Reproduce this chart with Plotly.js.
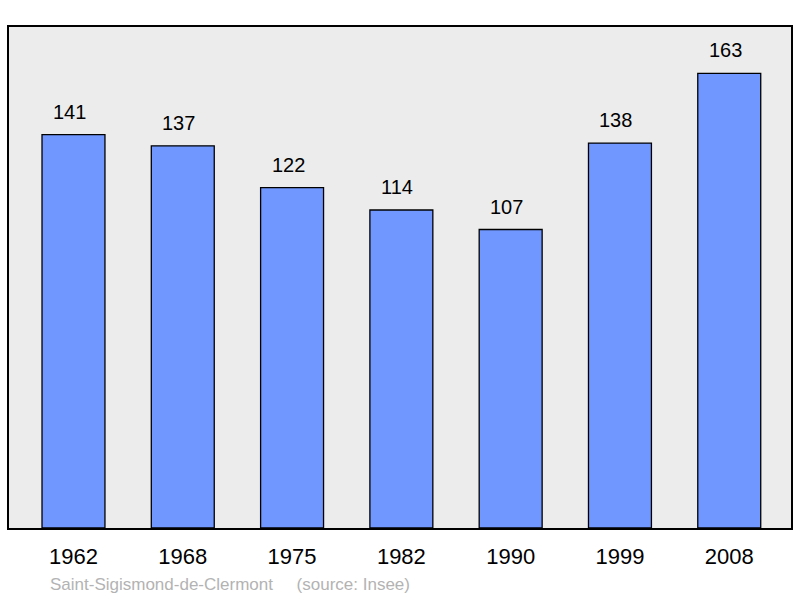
<!DOCTYPE html>
<html>
<head>
<meta charset="utf-8">
<script src="https://cdn.plot.ly/plotly-3.0.1.min.js"></script>
<style>html,body{margin:0;padding:0;background:#fff;}</style>
</head>
<body>
<div id="chart" style="width:800px;height:598px;"></div>
<script>
// population par recensement
var years = ['1962', '1968', '1975', '1982', '1990', '1999', '2008'];
var population = [141, 137, 122, 114, 107, 138, 163];
var commune = 'Saint-Sigismond-de-Clermont';

var idx = years.map(function(y, i){ return i; });

var trace = {
  x: idx,
  y: population,
  type: 'bar',
  width: 0.576,
  marker: {color: '#7097ff', line: {color: '#000', width: 1.3}},
  hoverinfo: 'none'
};

// valeurs au-dessus des barres
var notes = population.map(function(v, i){
  return {x: i, y: v, text: String(v), showarrow: false, yanchor: 'bottom',
          yshift: 10, xshift: -4, font: {size: 20, color: '#000'}};
});
notes.push({
  xref: 'paper', yref: 'paper', x: 0.05, y: -0.112, xanchor: 'left', yanchor: 'middle',
  text: commune + '&nbsp;&nbsp;&nbsp;&nbsp;&nbsp;(source: Insee)', showarrow: false,
  font: {size: 17, color: '#b3b3b3'}
});

var layout = {
  width: 800,
  height: 598,
  margin: {l: 9, r: 9, t: 27, b: 70},
  paper_bgcolor: '#fff',
  plot_bgcolor: '#ececec',
  font: {family: 'Liberation Sans, Arial, sans-serif', color: '#000'},
  showlegend: false,
  xaxis: {
    range: [-0.59, 6.565], tickvals: idx, ticktext: years,
    showgrid: false, zeroline: false, ticks: '',
    showline: true, mirror: true, linecolor: '#000', linewidth: 2,
    tickfont: {size: 22}, ticklabelstandoff: 8
  },
  yaxis: {
    range: [0, 179.6], showgrid: false, zeroline: false, showticklabels: false, ticks: '',
    showline: true, mirror: true, linecolor: '#000', linewidth: 2
  },
  annotations: notes
};

Plotly.newPlot('chart', [trace], layout, {displayModeBar: false, staticPlot: true});
</script>
</body>
</html>
